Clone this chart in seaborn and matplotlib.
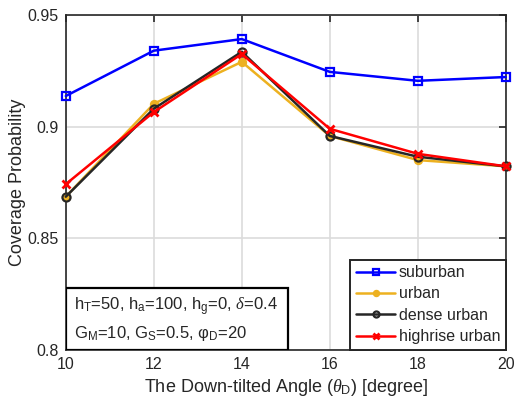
import matplotlib
matplotlib.use("Agg")
import matplotlib.pyplot as plt
import seaborn as sns
import pandas as pd
from matplotlib.patches import Rectangle

angles = [10, 12, 14, 16, 18, 20]
suburban = [0.9137, 0.9340, 0.9392, 0.9245, 0.9205, 0.9222]
urban = [0.8686, 0.9102, 0.9290, 0.8958, 0.8850, 0.8822]
dense_urban = [0.8686, 0.9080, 0.9335, 0.8958, 0.8865, 0.8822]
highrise_urban = [0.8742, 0.9065, 0.9325, 0.8990, 0.8878, 0.8822]
series_names = ["suburban", "urban", "dense urban", "highrise urban"]

sns.set_style("white")
plt.rcParams['font.family'] = ['Liberation Sans', 'DejaVu Sans']
plt.rcParams['mathtext.fontset'] = 'custom'
plt.rcParams['mathtext.rm'] = 'Liberation Sans'
plt.rcParams['mathtext.it'] = 'Liberation Serif:italic'

fig = plt.figure(figsize=(5.14, 4.04), dpi=100)
ax = fig.add_axes([0.128, 0.134, 0.856, 0.829])

styles = [
    dict(color="#0000ff", marker="s", markerfacecolor="none", markeredgecolor="#0000ff",
         markeredgewidth=1.6, markersize=5.8),
    dict(color="#edb120", marker="o", markerfacecolor="#edb120", markeredgecolor="#edb120",
         markeredgewidth=1.2, markersize=5.5),
    dict(color="#262626", marker="o", markerfacecolor="none", markeredgecolor="#262626",
         markeredgewidth=1.6, markersize=5.8),
    dict(color="#ff0000", marker="x", markeredgecolor="#ff0000", markeredgewidth=2.0, markersize=5.8),
]
data = [suburban, urban, dense_urban, highrise_urban]
for name, vals, st in zip(series_names, data, styles):
    df = pd.DataFrame({"angle": angles, "cov": vals})
    sns.lineplot(data=df, x="angle", y="cov", ax=ax, label=name, linewidth=1.8,
                 clip_on=False, zorder=3, **st)

ax.set_xlim(10, 20)
ax.set_ylim(0.8, 0.95)
ax.set_xticks([10, 12, 14, 16, 18, 20])
ax.set_yticks([0.8, 0.85, 0.9, 0.95])
ax.set_yticklabels(["0.8", "0.85", "0.9", "0.95"])
ax.grid(True, color="#dcdcdc", linewidth=1.2)
ax.set_axisbelow(True)
for s in ax.spines.values():
    s.set_visible(True)
    s.set_color("#262626")
    s.set_linewidth(1.2)
    s.set_zorder(2.5)
ax.tick_params(direction="in", length=5, width=1.2, top=True, right=True, labelsize=11.5,
               colors="#262626", labelcolor="#262626", pad=5)
ax.set_xlabel(r"The Down-tilted Angle ($\theta_\mathregular{D}$) [degree]", fontsize=13,
              color="#262626", labelpad=4)
ax.set_ylabel("Coverage Probability", fontsize=13, color="#262626", labelpad=1)

leg = ax.legend(loc="lower right", fontsize=11.5, frameon=True, fancybox=False,
                edgecolor="#262626", framealpha=1, borderaxespad=0, handlelength=2.5,
                labelspacing=0.4, borderpad=0.35, handletextpad=0.2, markerscale=0.75)
leg.get_frame().set_linewidth(1.4)
leg.set_zorder(10)

rect = Rectangle((0, 0), 0.505, 0.185, transform=ax.transAxes, facecolor="white",
                 edgecolor="black", linewidth=1.6, zorder=5)
ax.add_patch(rect)
ax.text(0.018, 0.128, r"h$_\mathregular{T}$=50, h$_\mathregular{a}$=100, h$_\mathregular{g}$=0, $\delta$=0.4",
        transform=ax.transAxes, fontsize=12, va="center", ha="left", zorder=6, color="#262626")
ax.text(0.018, 0.048, r"G$_\mathregular{M}$=10, G$_\mathregular{S}$=0.5, φ$_\mathregular{D}$=20",
        transform=ax.transAxes, fontsize=12, va="center", ha="left", zorder=6, color="#262626")

fig.savefig("out.png", dpi=100)
